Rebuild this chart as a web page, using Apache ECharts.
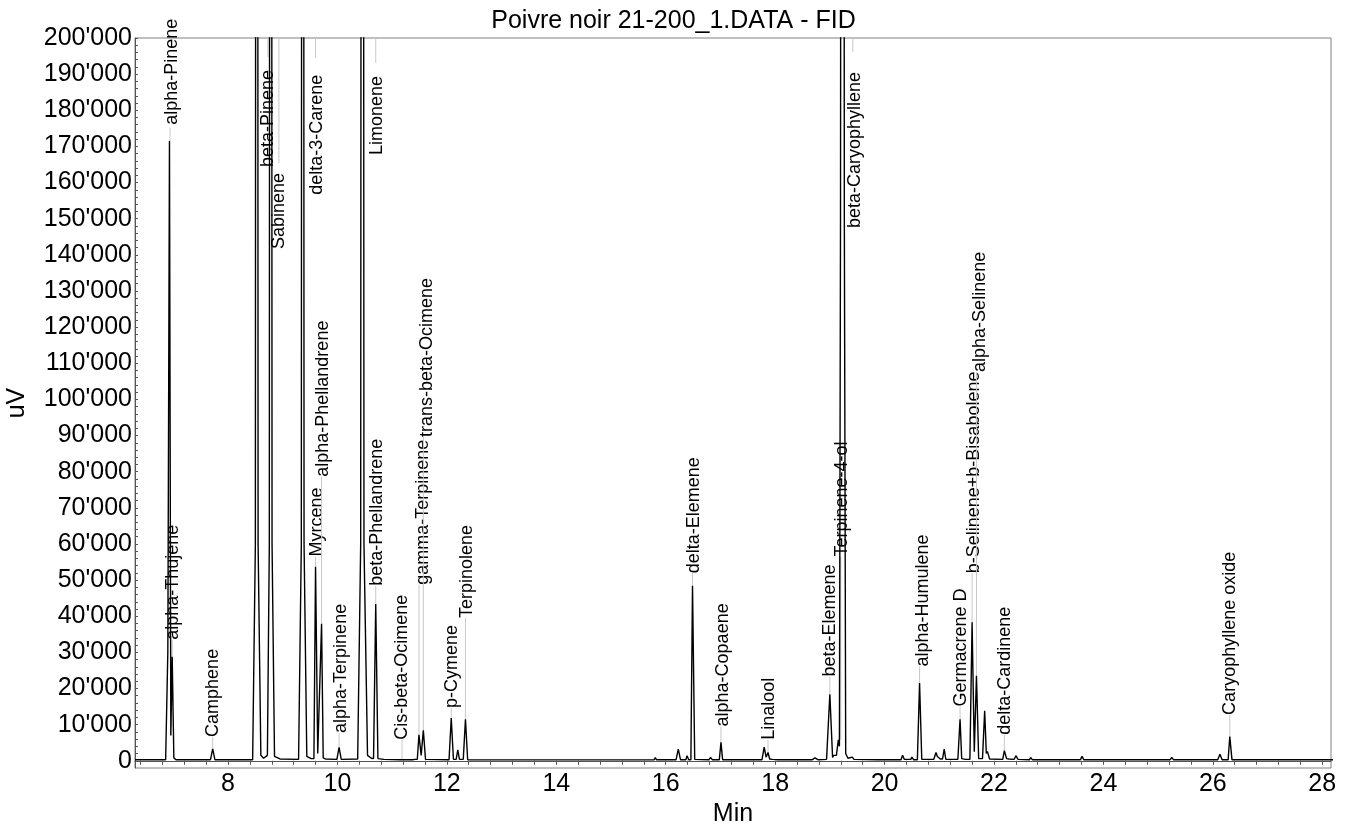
<!DOCTYPE html>
<html>
<head>
<meta charset="utf-8">
<script src="https://cdn.jsdelivr.net/npm/echarts@6/dist/echarts.min.js"></script>
<style>html,body{margin:0;padding:0;background:#fff}#c{width:1347px;height:825px}</style>
</head>
<body>
<div id="c"></div>
<script>
// Chromatogram trace: [time (min), signal (uV)]
const trace = [
  [6.30,300],[6.86,300],[6.90,30000],[6.93,171500],[6.955,7000],[6.98,28800],[7.01,800],[7.05,300],
  [7.68,300],[7.72,3300],[7.76,300],
  [8.45,300],[8.50,60000],[8.525,900000],[8.55,60000],[8.60,1500],[8.65,700],
  [8.72,1500],[8.755,60000],[8.78,900000],[8.805,60000],[8.85,1200],[8.95,500],
  [9.29,400],[9.34,60000],[9.365,900000],[9.39,60000],[9.44,1200],[9.52,600],
  [9.57,600],[9.60,53700],[9.64,2000],[9.67,2500],[9.71,37900],[9.74,800],[9.78,500],
  [9.99,400],[10.03,3700],[10.07,400],
  [10.37,500],[10.425,60000],[10.455,900000],[10.485,60000],[10.55,1500],[10.62,700],
  [10.66,600],[10.70,43400],[10.74,600],[10.85,400],
  [11.15,300],[11.18,500],[11.21,300],[11.37,300],[11.39,700],[11.42,400],
  [11.46,400],[11.49,7200],[11.53,1500],[11.57,8400],[11.61,400],
  [12.04,300],[12.08,11800],[12.12,400],[12.17,400],[12.20,3000],[12.23,400],
  [12.30,400],[12.34,11500],[12.38,300],
  [13.50,250],[15.00,250],[15.79,300],[15.81,900],[15.83,300],
  [16.19,300],[16.23,3200],[16.27,300],[16.37,300],[16.39,1400],[16.42,300],
  [16.46,300],[16.49,48400],[16.53,400],
  [16.79,300],[16.82,900],[16.85,300],[16.98,300],[17.01,5100],[17.04,300],
  [17.60,300],[17.62,700],[17.64,300],
  [17.76,300],[17.80,3800],[17.835,1000],[17.87,2300],[17.90,500],[17.95,400],
  [18.05,300],[18.08,800],[18.11,300],
  [18.68,300],[18.73,800],[18.78,300],
  [18.94,400],[19.00,18400],[19.05,900],[19.07,1500],[19.12,1500],[19.155,5800],[19.175,4000],
  [19.195,150000],[19.23,900000],[19.265,150000],[19.29,2000],[19.33,700],[19.41,1000],[19.44,400],
  [19.88,300],[19.91,800],[19.94,300],
  [20.30,300],[20.33,1500],[20.36,400],[20.48,400],[20.50,1000],[20.53,300],
  [20.60,300],[20.64,21500],[20.68,400],
  [20.90,400],[20.94,2300],[20.965,1200],[20.99,1600],[21.02,500],[21.06,500],[21.09,3200],[21.12,400],
  [21.34,400],[21.38,11500],[21.41,600],[21.44,800],[21.48,400],
  [21.56,400],[21.60,38300],[21.64,2500],[21.68,23500],[21.72,600],
  [21.79,600],[21.83,13800],[21.86,2000],[21.88,2600],[21.92,500],
  [22.16,400],[22.19,2800],[22.23,600],[22.27,500],[22.37,400],[22.40,1400],[22.44,400],
  [22.65,300],[22.67,900],[22.70,300],[23.00,300],[23.02,600],[23.05,300],
  [23.58,300],[23.61,1200],[23.64,300],
  [25.22,300],[25.25,900],[25.28,300],
  [26.09,300],[26.13,1800],[26.17,300],[26.28,300],[26.31,6700],[26.35,300],
  [27.20,300],[27.23,600],[27.26,300],[27.63,300],[27.66,500],[27.69,300],[28.20,300]
];

// Peak labels
const labelNames = ['alpha-Pinene','alpha-Thujene','Camphene','beta-Pinene','Sabinene','delta-3-Carene',
  'Myrcene','alpha-Phellandrene','alpha-Terpinene','Limonene','beta-Phellandrene','Cis-beta-Ocimene',
  'gamma-Terpinene','trans-beta-Ocimene','p-Cymene','Terpinolene','delta-Elemene','alpha-Copaene',
  'Linalool','beta-Elemene','Terpinene-4-ol','beta-Caryophyllene','alpha-Humulene','Germacrene D',
  'b-Selinene+b-Bisabolene','alpha-Selinene','delta-Cardinene','Caryophyllene oxide'];
// time of leader line
const leaderT = [6.94,6.98,7.72,8.73,8.93,9.60,9.60,9.71,10.03,10.70,10.70,11.18,
  11.49,11.57,12.08,12.34,16.49,17.01,17.87,19.00,19.20,19.42,20.64,21.38,21.60,21.68,22.19,26.31];
// leader line from / to (uV)
const leaderFrom = [171400,28800,3300,200000,200000,200000,53700,37900,3700,200000,43400,500,
  7200,8400,11800,11500,48400,5100,2300,18400,5800,200000,21500,11500,38300,23500,2800,6700];
const leaderTo = [175200,33500,6600,194700,165400,194500,56500,78600,7700,193100,48400,5800,
  48700,89600,14600,39500,51900,9500,5800,23300,56500,196100,26100,15000,51900,107600,7200,12700];
// text position: time of centre, signal where the text starts (it reads upward)
const textT = [6.97,6.99,7.73,8.74,8.93,9.63,9.63,9.74,10.06,10.72,10.72,11.18,
  11.57,11.64,12.09,12.36,16.52,17.04,17.88,19.01,19.22,19.46,20.70,21.39,21.64,21.75,22.20,26.32];
const textStart = [176000,33500,6600,164300,141600,156600,56500,78600,7700,167600,48400,5800,
  48700,89600,14600,39500,51900,9500,5800,23300,56500,147400,26100,15000,51900,107600,7200,12700];

// axis ticks
const xTickLabels = [8,10,12,14,16,18,20,22,24,26,28];
const xMinorTicks = [];
for (let k = 16; k <= 70; k++) xMinorTicks.push(+(k * 0.4).toFixed(1));
const yTickLabels = [];
for (let v = 0; v <= 200000; v += 10000) yTickLabels.push(v);
const yMinorTicks = [];
for (let v = 0; v <= 200000; v += 2000) yMinorTicks.push(v);

const FONT = '"Liberation Sans", Arial, sans-serif';
const chart = echarts.init(document.getElementById('c'));
function fmt(v){ return String(v).replace(/\B(?=(\d{3})+(?!\d))/g, "'"); }

chart.setOption({
  animation: false,
  backgroundColor: '#fff',
  title: {
    text: 'Poivre noir 21-200_1.DATA - FID',
    left: 'center', top: 4,
    textStyle: { fontFamily: FONT, fontSize: 25, fontWeight: 'normal', color: '#000' }
  },
  grid: { left: 135, right: 16, top: 38, bottom: 57, show: true, borderColor: '#808080', borderWidth: 1,
          containLabel: false, outerBoundsMode: 'none' },
  xAxis: {
    type: 'value', min: 6.30, max: 28.16,
    name: 'Min', nameLocation: 'middle', nameGap: 21,
    nameTextStyle: { fontFamily: FONT, fontSize: 25, color: '#000' },
    axisLine: { show: true, lineStyle: { color: '#555', width: 1 } },
    axisTick: { show: true, length: 4, customValues: xMinorTicks, lineStyle: { color: '#555' } },
    axisLabel: { customValues: xTickLabels, margin: 4, fontFamily: FONT, fontSize: 25, color: '#000' },
    splitLine: { show: false }
  },
  yAxis: {
    type: 'value', min: -2000, max: 200000,
    name: 'uV', nameLocation: 'middle', nameGap: 105,
    nameTextStyle: { fontFamily: FONT, fontSize: 25, color: '#000' },
    axisLine: { show: true, lineStyle: { color: '#555', width: 1 } },
    axisTick: { show: true, inside: true, length: 3, customValues: yMinorTicks, lineStyle: { color: '#555' } },
    axisLabel: { customValues: yTickLabels, margin: 3, fontFamily: FONT, fontSize: 25, color: '#000', formatter: fmt },
    splitLine: { show: false }
  },
  series: [
    {
      type: 'custom', z: 1,
      data: labelNames.map((n, i) => [textT[i], textStart[i]]),
      encode: { x: 0, y: 1 },
      renderItem: function (params, api) {
        const i = params.dataIndex;
        const a = api.coord([leaderT[i], leaderFrom[i]]);
        const b = api.coord([leaderT[i], leaderTo[i]]);
        const c = api.coord([textT[i], textStart[i]]);
        return { type: 'group', children: [
          { type: 'line', shape: { x1: a[0], y1: a[1], x2: b[0], y2: b[1] }, style: { stroke: '#c8c8c8', lineWidth: 1 } },
          { type: 'text', x: c[0], y: c[1], rotation: Math.PI / 2,
            style: { text: labelNames[i], fill: '#000', font: '18px ' + FONT, align: 'left', verticalAlign: 'middle' } }
        ]};
      }
    },
    {
      type: 'line', z: 3, data: trace, showSymbol: false, clip: true,
      lineStyle: { color: '#000', width: 1.4 }
    }
  ]
});
</script>
</body>
</html>
